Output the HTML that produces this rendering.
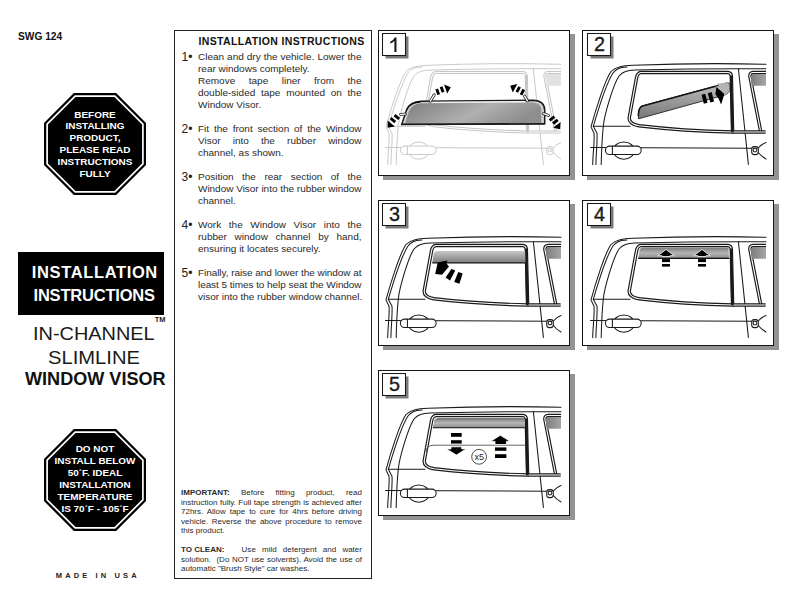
<!DOCTYPE html>
<html><head><meta charset="utf-8">
<style>
*{margin:0;padding:0;box-sizing:border-box}
html,body{width:792px;height:612px;background:#fff;overflow:hidden}
body{position:relative;font-family:"Liberation Sans",sans-serif;color:#1a1a1a}
.a{position:absolute;white-space:nowrap}
.oct{position:absolute}
.tb{position:absolute;left:174px;top:30px;width:198px;height:549px;border:1.2px solid #222}
.ln{position:absolute;left:198.1px;width:147.2px;font-size:9px;line-height:12px;height:12px;margin-top:0.4px;white-space:nowrap;color:#2a2a2a;transform:scaleX(1.1108);transform-origin:0 0}
.j{text-align:justify;text-align-last:justify}
.num{position:absolute;margin-top:1px;left:181.5px;font-size:12px;line-height:12px;color:#222}
.sm{position:absolute;margin-top:1.4px;left:180.8px;width:169.6px;font-size:7.5px;line-height:9.5px;height:9.5px;white-space:nowrap;color:#2a2a2a;transform:scaleX(1.067);transform-origin:0 0}
.panel{position:absolute;width:192px;height:146px}
.panel .sh{position:absolute;left:5px;top:4px;width:192px;height:146px;background:#939393}
.panel svg{position:absolute;left:0;top:0}
</style></head><body>

<div class="a" style="left:18px;top:31px;font-size:10.2px;font-weight:bold;color:#111">SWG 124</div>

<!-- octagon 1 -->
<svg class="oct" style="left:43px;top:91.8px" width="104" height="104" viewBox="0 0 104 104">
  <polygon points="30.88,1.00 73.12,1.00 103.00,30.88 103.00,73.12 73.12,103.00 30.88,103.00 1.00,73.12 1.00,30.88" fill="#000"/>
  <polygon points="32.16,4.10 71.84,4.10 99.90,32.16 99.90,71.84 71.84,99.90 32.16,99.90 4.10,71.84 4.10,32.16" fill="none" stroke="#fff" stroke-width="1.7"/>
</svg>
<div class="a" style="left:43px;top:109.6px;width:104px;text-align:center;color:#fff;font-weight:bold;font-size:9.2px;line-height:11.78px;white-space:normal;transform:scaleX(1.085)">BEFORE<br>INSTALLING<br>PRODUCT,<br>PLEASE READ<br>INSTRUCTIONS<br>FULLY</div>

<div class="a" style="left:18px;top:252px;width:146px;height:63px;background:#000"></div>
<div class="a" style="left:31.8px;top:260.5px;color:#fff;font-weight:bold;font-size:16.5px;line-height:23.5px;letter-spacing:0.63px">INSTALLATION</div>
<div class="a" style="left:33.5px;top:283.5px;color:#fff;font-weight:bold;font-size:16.5px;line-height:23.5px;letter-spacing:-0.2px">INSTRUCTIONS</div>
<div class="a" style="left:154.8px;top:315px;font-size:7.4px;line-height:9px;font-weight:bold;color:#222">TM</div>
<div class="a" style="left:32.5px;top:323px;font-size:18.5px;line-height:22px;color:#1a1a1a;transform:scaleX(1.076);transform-origin:0 0">IN-CHANNEL</div>
<div class="a" style="left:47.5px;top:346.5px;font-size:18.5px;line-height:22px;color:#1a1a1a;transform:scaleX(1.09);transform-origin:0 0">SLIMLINE</div>
<div class="a" style="left:24.5px;top:368px;font-size:18.5px;font-weight:bold;line-height:22px;color:#111;transform:scaleX(0.977);transform-origin:0 0">WINDOW VISOR</div>

<!-- octagon 2 -->
<svg class="oct" style="left:43px;top:427.8px" width="104" height="104" viewBox="0 0 104 104">
  <polygon points="30.88,1.00 73.12,1.00 103.00,30.88 103.00,73.12 73.12,103.00 30.88,103.00 1.00,73.12 1.00,30.88" fill="#000"/>
  <polygon points="32.16,4.10 71.84,4.10 99.90,32.16 99.90,71.84 71.84,99.90 32.16,99.90 4.10,71.84 4.10,32.16" fill="none" stroke="#fff" stroke-width="1.7"/>
</svg>
<div class="a" style="left:42.5px;top:442.5px;width:104px;text-align:center;color:#fff;font-weight:bold;font-size:9.4px;line-height:12.05px;white-space:normal;transform:scaleX(1.06)">DO NOT<br>INSTALL BELOW<br>50<span style="font-size:6px;position:relative;top:-3px;margin:0 0.3px;line-height:0">&deg;</span>F. IDEAL<br>INSTALLATION<br>TEMPERATURE<br>IS 70<span style="font-size:6px;position:relative;top:-3px;margin:0 0.3px;line-height:0">&deg;</span>F - 105<span style="font-size:6px;position:relative;top:-3px;margin:0 0.3px;line-height:0">&deg;</span>F</div>

<div class="a" style="left:55.8px;top:570.5px;font-size:7.5px;font-weight:bold;letter-spacing:3.12px;color:#222">MADE IN USA</div>

<!-- text box -->
<div class="tb"></div>
<div class="a" style="left:198.5px;top:35px;font-size:10.5px;letter-spacing:0.36px;font-weight:bold;color:#111">INSTALLATION INSTRUCTIONS</div>

<div class="num" style="top:50px">1&bull;</div>
<div class="ln j" style="top:51px">Clean and dry the vehicle. Lower the</div>
<div class="ln" style="top:63px">rear windows completely.</div>
<div class="ln j" style="top:75px">Remove tape liner from the</div>
<div class="ln j" style="top:87px">double-sided tape mounted on the</div>
<div class="ln" style="top:99px">Window Visor.</div>

<div class="num" style="top:122px">2&bull;</div>
<div class="ln j" style="top:123px">Fit the front section of the Window</div>
<div class="ln j" style="top:135px">Visor into the rubber window</div>
<div class="ln" style="top:147px">channel, as shown.</div>

<div class="num" style="top:170px">3&bull;</div>
<div class="ln j" style="top:171px">Position the rear section of the</div>
<div class="ln j" style="top:183px;letter-spacing:-0.03px">Window Visor into the rubber window</div>
<div class="ln" style="top:195px">channel.</div>

<div class="num" style="top:218px">4&bull;</div>
<div class="ln j" style="top:219px">Work the Window Visor into the</div>
<div class="ln j" style="top:231px">rubber window channel by hand,</div>
<div class="ln" style="top:243px">ensuring it locates securely.</div>

<div class="num" style="top:266px">5&bull;</div>
<div class="ln j" style="top:267px;letter-spacing:-0.06px">Finally, raise and lower the window at</div>
<div class="ln j" style="top:279px;letter-spacing:-0.065px">least 5 times to help seat the Window</div>
<div class="ln" style="top:291px;letter-spacing:-0.02px">visor into the rubber window channel.</div>

<div class="sm j" style="top:487px"><b>IMPORTANT:</b> Before fitting product, read</div>
<div class="sm j" style="top:496.5px">instruction fully. Full tape strength is achieved after</div>
<div class="sm j" style="top:506px">72hrs. Allow tape to cure for 4hrs before driving</div>
<div class="sm j" style="top:515.5px">vehicle. Reverse the above procedure to remove</div>
<div class="sm" style="top:525px">this product.</div>

<div class="sm j" style="top:544px"><b style="display:inline-block;width:51px;text-align-last:left;text-align:left">TO CLEAN:</b> Use mild detergent and water</div>
<div class="sm j" style="top:553.5px">solution.<span style="display:inline-block;width:2.8px"></span> (Do NOT use solvents). Avoid the use of</div>
<div class="sm" style="top:563px">automatic "Brush Style" car washes.</div>

<!-- PANELS -->
<div class="panel" style="left:378px;top:30px"><div class="sh"></div><div style="position:absolute;inset:0;background:#fff;border:1.3px solid #151515"></div><svg width="192" height="146" viewBox="0 0 192 146" style="position:absolute;left:0;top:0"><defs><clipPath id="clp1"><rect x="1" y="1" width="182.5" height="134.8"/></clipPath><linearGradient id="g1" x1="0" y1="0" x2="1" y2="0.3"><stop offset="0" stop-color="#7c7c7c"/><stop offset="0.6" stop-color="#b0b0b0"/><stop offset="1" stop-color="#8e8e8e"/></linearGradient></defs><g clip-path="url(#clp1)"><g transform="translate(0,0.0)" fill="none" stroke="#c6c6c6" stroke-width="0.95" stroke-linejoin="round" stroke-linecap="round">
<path d="M183,34.3 Q118,32.6 50,35.3 C40,35.8 33,36.5 28,41.5 C22,50 12.5,80 8,96.9 L11,103.3 C11.8,110 9.8,125 9.7,134.6"/>
<path d="M44,37 C36,37.5 33,39 30,43 C24,52 14.5,82 10.3,96.3 L14,103.3 C14.6,110 13,125 12.9,134.6"/>
<path d="M183,38.8 Q120,38.3 52,40.1 C44,40.5 40,41.5 36,46 C30,55 21.5,85 20.3,95.7 C19.4,105 18.4,125 18.2,134.6"/>
<path d="M10.3,96.3 L47,96.3"/>
<path d="M155.4,38.8 L165.4,134.4"/>
<path d="M7.5,117.5 L169,118.2"/>
<ellipse cx="40.8" cy="120.6" rx="10.6" ry="8.6" fill="#fff"/>
<rect x="22.4" y="116.1" width="35.8" height="8.4" rx="4.2" fill="#fff"/>
<path d="M29.4,116.3 L29.4,124.3"/>
<rect x="168.7" y="116.6" width="6.6" height="8" rx="2.6" fill="#fff"/>
<circle cx="172" cy="120" r="1.9"/>
<path d="M175.3,118 Q178,114.5 183,112.5 M175.3,122.5 Q178,126 183,129"/>
<path d="M58,42.5 L145,42.5 Q148,42.8 148.3,46 L149.6,102 Q100,101 56,95.8 Q46,94 46.2,88 L53.5,48 Q54.5,42.8 58,42.5 Z" stroke-width="3.135" stroke-linecap="butt"/>
<path d="M58,42.5 L145,42.5 Q148,42.8 148.3,46 L149.6,102 Q100,101 56,95.8 Q46,94 46.2,88 L53.5,48 Q54.5,42.8 58,42.5 Z" stroke="#fff" stroke-width="1.045" stroke-linecap="butt"/>
<path d="M183,42.5 L170,42.5 Q167,42.7 166.8,46 L177.8,102" stroke-width="3.135" stroke-linecap="butt"/>
<path d="M183,42.5 L170,42.5 Q167,42.7 166.8,46 L177.8,102" stroke="#fff" stroke-width="1.045" stroke-linecap="butt"/>
<path d="M149.6,102 L182.6,102" stroke-width="3.135" stroke-linecap="butt"/>
<path d="M149.6,102 L182.6,102" stroke="#fff" stroke-width="1.045" stroke-linecap="butt"/>
<path d="M148.2,45.5 L149.4,102.3" stroke-width="2.28" stroke-linecap="butt"/>
<path d="M58,41.6 L145,41.6" stroke-width="0.855" stroke-linecap="butt"/>
</g></g>
<path d="M168.6,55.8 L167.9,47.5 Q168,43.9 171.5,43.9 L183,43.9 L183,55.8 Z" fill="#e2e2e2"/>
<path d="M23.7,94.5 L28.5,80 Q32,71.5 43,71.2 L155,70.2 Q166.5,70.5 166.7,80 L166.7,93.8 Z" fill="#d0d0d0" stroke="#1a1a1a" stroke-width="1.5"/>
<path d="M26.8,94 L30.8,81.5 Q34,73.5 44,73.3 L155,72.6 Q163.2,73 163.3,80.5 L163.3,93.8 Z" fill="url(#g1)"/>
<path d="M28.6,80 Q32,72.3 42.5,72.2" fill="none" stroke="#111" stroke-width="1.2"/>
<path d="M53,72.3 L147,71.6" stroke="#fff" stroke-width="1.1"/>
<path d="M24.5,94.3 L166.7,93.8" stroke="#1a1a1a" stroke-width="1.6"/>
<path d="M52.3,71.2 L56.2,64.8" stroke="#222" stroke-width="3.0" stroke-linecap="round"/><path d="M52.3,71.2 L56.2,64.8" stroke="#fff" stroke-width="1.4" stroke-linecap="round"/>
<path d="M22.6,84.3 L27.3,84.2" stroke="#222" stroke-width="2.8" stroke-linecap="round"/><path d="M22.6,84.3 L27.3,84.2" stroke="#fff" stroke-width="1.2000000000000002" stroke-linecap="round"/>
<path d="M146.6,66.2 L149.4,70.8" stroke="#222" stroke-width="3.0" stroke-linecap="round"/><path d="M146.6,66.2 L149.4,70.8" stroke="#fff" stroke-width="1.4" stroke-linecap="round"/>
<path d="M165.6,83.7 L170.4,85.4" stroke="#222" stroke-width="3.0" stroke-linecap="round"/><path d="M165.6,83.7 L170.4,85.4" stroke="#fff" stroke-width="1.4" stroke-linecap="round"/>
<polygon points="57.34,59.45 60.08,58.49 62.06,64.15 59.32,65.11" fill="#000"/><polygon points="61.74,57.15 64.48,56.19 66.46,61.85 63.72,62.81" fill="#000"/><polygon points="69.19,63.51 72.81,57.21 66.05,54.54" fill="#000"/>
<polygon points="22.02,87.84 20.14,90.05 15.58,86.16 17.46,83.95" fill="#000"/><polygon points="18.12,90.94 16.24,93.15 11.68,89.26 13.56,87.05" fill="#000"/><polygon points="9.62,90.44 9.66,97.71 16.84,96.61" fill="#000"/>
<polygon points="144.28,65.53 141.72,64.18 144.52,58.87 147.08,60.22" fill="#000"/><polygon points="140.08,62.83 137.52,61.48 140.32,56.17 142.88,57.52" fill="#000"/><polygon points="139.26,54.12 132.18,55.76 134.83,62.53" fill="#000"/>
<polygon points="175.50,85.53 177.26,87.83 172.50,91.47 170.74,89.17" fill="#000"/><polygon points="178.90,88.73 180.66,91.03 175.90,94.67 174.14,92.37" fill="#000"/><polygon points="175.09,97.74 182.21,99.22 182.63,91.97" fill="#000"/>
<rect x="7.5" y="6.5" width="23.0" height="22.0" fill="#7a7a7a"/><rect x="4.5" y="3.5" width="23.0" height="22.0" fill="#fff" stroke="#1a1a1a" stroke-width="1.05"/><path d="M12.2,11.7 Q15.6,10.4 16.7,7.5 L18.5,7.5 L18.5,21.9 L16.4,21.9 L16.4,10.9 Q14.9,12.6 12.2,13.5 Z" fill="#1a1a1a"/></svg></div>
<div class="panel" style="left:582px;top:30px"><div class="sh"></div><div style="position:absolute;inset:0;background:#fff;border:1.3px solid #151515"></div><svg width="192" height="146" viewBox="0 0 192 146" style="position:absolute;left:1px;top:0"><defs><linearGradient id="g2" x1="0" y1="1" x2="0.2" y2="0"><stop offset="0" stop-color="#777777"/><stop offset="1" stop-color="#b5b5b5"/></linearGradient><linearGradient id="g2r" x1="0" y1="0" x2="1" y2="0"><stop offset="0" stop-color="#7d7d7d"/><stop offset="1" stop-color="#a5a5a5"/></linearGradient></defs><g transform="translate(0,0)" fill="none" stroke="#1a1a1a" stroke-width="1.05" stroke-linejoin="round" stroke-linecap="round">
<path d="M183,34.3 Q118,32.6 50,35.3 C40,35.8 33,36.5 28,41.5 C22,50 12.5,80 8,96.9 L11,103.3 C11.8,110 9.8,125 9.7,134.6"/>
<path d="M44,37 C36,37.5 33,39 30,43 C24,52 14.5,82 10.3,96.3 L14,103.3 C14.6,110 13,125 12.9,134.6"/>
<path d="M183,38.8 Q120,38.3 52,40.1 C44,40.5 40,41.5 36,46 C30,55 21.5,85 20.3,95.7 C19.4,105 18.4,125 18.2,134.6"/>
<path d="M10.3,96.3 L47,96.3"/>
<path d="M155.4,38.8 L165.4,134.4"/>
<path d="M7.5,117.5 L169,118.2"/>
<ellipse cx="40.8" cy="120.6" rx="10.6" ry="8.6" fill="#fff"/>
<rect x="22.4" y="116.1" width="35.8" height="8.4" rx="4.2" fill="#fff"/>
<path d="M29.4,116.3 L29.4,124.3"/>
<rect x="168.7" y="116.6" width="6.6" height="8" rx="2.6" fill="#fff"/>
<circle cx="172" cy="120" r="1.9"/>
<path d="M175.3,118 Q178,114.5 183,112.5 M175.3,122.5 Q178,126 183,129"/>
<path d="M58,42.5 L145,42.5 Q148,42.8 148.3,46 L149.6,102 Q100,101 56,95.8 Q46,94 46.2,88 L53.5,48 Q54.5,42.8 58,42.5 Z" stroke-width="3.465" stroke-linecap="butt"/>
<path d="M58,42.5 L145,42.5 Q148,42.8 148.3,46 L149.6,102 Q100,101 56,95.8 Q46,94 46.2,88 L53.5,48 Q54.5,42.8 58,42.5 Z" stroke="#fff" stroke-width="1.1550000000000002" stroke-linecap="butt"/>
<path d="M183,42.5 L170,42.5 Q167,42.7 166.8,46 L177.8,102" stroke-width="3.465" stroke-linecap="butt"/>
<path d="M183,42.5 L170,42.5 Q167,42.7 166.8,46 L177.8,102" stroke="#fff" stroke-width="1.1550000000000002" stroke-linecap="butt"/>
<path d="M149.6,102 L182.6,102" stroke-width="3.465" stroke-linecap="butt"/>
<path d="M149.6,102 L182.6,102" stroke="#fff" stroke-width="1.1550000000000002" stroke-linecap="butt"/>
<path d="M148.2,45.5 L149.4,102.3" stroke-width="2.52" stroke-linecap="butt"/>
<path d="M58,41.6 L145,41.6" stroke-width="0.9450000000000001" stroke-linecap="butt"/>
</g>
<path d="M168.6,55.8 L167.9,47.5 Q168,43.9 171.5,43.9 L183,43.9 L183,55.8 Z" fill="url(#g2r)"/>
<path d="M58.2,76.2 L143.6,53.1 L146.2,53 L146.2,62 L142.3,64.8 L55.6,88.8 Q54.5,80 58.2,76.2 Z" fill="url(#g2)" stroke="#222" stroke-width="0.9"/>
<path d="M55.4,86 Q55.2,77.5 59.5,76 L143.6,53.3" fill="none" stroke="#151515" stroke-width="1.5"/>
<path d="M133.8,53.6 L143.6,53.1 Q146.2,53 146.2,56 L146.2,62 L142.3,64.8 Z" fill="#b4b4b4"/>
<path d="M133,55.6 L142.3,65.2" stroke="#fff" stroke-width="1"/>
<polygon points="118.6,64.7 122.2,63.8 124.5,72.8 120.8,73.8" fill="#000"/>
<polygon points="124.8,63.2 128.6,62.1 131.1,71.4 127.3,72.4" fill="#000"/>
<polygon points="133.5,56.8 141.4,64 138.1,74.4 136,69.5 132.4,64" fill="#000"/>
<rect x="7.5" y="6.5" width="23.0" height="22.0" fill="#7a7a7a"/><rect x="4.5" y="3.5" width="23.0" height="22.0" fill="#fff" stroke="#1a1a1a" stroke-width="1.05"/><text x="16.4" y="21.4" text-anchor="middle" font-family="Liberation Sans, sans-serif" font-size="19.8" fill="#1a1a1a" stroke="#1a1a1a" stroke-width="0.35">2</text></svg></div>
<div class="panel" style="left:378px;top:200px"><div class="sh"></div><div style="position:absolute;inset:0;background:#fff;border:1.3px solid #151515"></div><svg width="192" height="146" viewBox="0 0 192 146" style="position:absolute;left:0;top:0"><defs><linearGradient id="g3" x1="0" y1="0" x2="0" y2="1"><stop offset="0" stop-color="#c8c8c8"/><stop offset="1" stop-color="#7c7c7c"/></linearGradient><linearGradient id="g3r" x1="0" y1="0" x2="1" y2="0"><stop offset="0" stop-color="#7d7d7d"/><stop offset="1" stop-color="#a5a5a5"/></linearGradient></defs><g transform="translate(0,3.0)" fill="none" stroke="#1a1a1a" stroke-width="1.05" stroke-linejoin="round" stroke-linecap="round">
<path d="M183,34.3 Q118,32.6 50,35.3 C40,35.8 33,36.5 28,41.5 C22,50 12.5,80 8,96.9 L11,103.3 C11.8,110 9.8,125 9.7,134.6"/>
<path d="M44,37 C36,37.5 33,39 30,43 C24,52 14.5,82 10.3,96.3 L14,103.3 C14.6,110 13,125 12.9,134.6"/>
<path d="M183,38.8 Q120,38.3 52,40.1 C44,40.5 40,41.5 36,46 C30,55 21.5,85 20.3,95.7 C19.4,105 18.4,125 18.2,134.6"/>
<path d="M10.3,96.3 L47,96.3"/>
<path d="M155.4,38.8 L165.4,134.4"/>
<path d="M7.5,117.5 L169,118.2"/>
<ellipse cx="40.8" cy="120.6" rx="10.6" ry="8.6" fill="#fff"/>
<rect x="22.4" y="116.1" width="35.8" height="8.4" rx="4.2" fill="#fff"/>
<path d="M29.4,116.3 L29.4,124.3"/>
<rect x="168.7" y="116.6" width="6.6" height="8" rx="2.6" fill="#fff"/>
<circle cx="172" cy="120" r="1.9"/>
<path d="M175.3,118 Q178,114.5 183,112.5 M175.3,122.5 Q178,126 183,129"/>
<path d="M58,42.5 L145,42.5 Q148,42.8 148.3,46 L149.6,102 Q100,101 56,95.8 Q46,94 46.2,88 L53.5,48 Q54.5,42.8 58,42.5 Z" stroke-width="3.465" stroke-linecap="butt"/>
<path d="M58,42.5 L145,42.5 Q148,42.8 148.3,46 L149.6,102 Q100,101 56,95.8 Q46,94 46.2,88 L53.5,48 Q54.5,42.8 58,42.5 Z" stroke="#fff" stroke-width="1.1550000000000002" stroke-linecap="butt"/>
<path d="M183,42.5 L170,42.5 Q167,42.7 166.8,46 L177.8,102" stroke-width="3.465" stroke-linecap="butt"/>
<path d="M183,42.5 L170,42.5 Q167,42.7 166.8,46 L177.8,102" stroke="#fff" stroke-width="1.1550000000000002" stroke-linecap="butt"/>
<path d="M149.6,102 L182.6,102" stroke-width="3.465" stroke-linecap="butt"/>
<path d="M149.6,102 L182.6,102" stroke="#fff" stroke-width="1.1550000000000002" stroke-linecap="butt"/>
<path d="M148.2,45.5 L149.4,102.3" stroke-width="2.52" stroke-linecap="butt"/>
<path d="M58,41.6 L145,41.6" stroke-width="0.9450000000000001" stroke-linecap="butt"/>
</g>
<path d="M168.6,58.8 L167.9,50.5 Q168,46.9 171.5,46.9 L183,46.9 L183,58.8 Z" fill="url(#g3r)"/>
<path d="M54.3,62.8 L55.8,53 Q56.5,50.9 59,50.9 L147,50.9 L147.6,62.8 Z" fill="url(#g3)"/>
<path d="M54.3,62.8 L147.6,62.8" stroke="#111" stroke-width="1.2"/>
<polygon points="59.7,62.5 69.4,60.5 68.6,63.6 71,66.4 64,74.8 57.2,74" fill="#000"/>
<polygon points="67.6,77.4 73.4,68.9 77.3,70.4 72,80.5" fill="#000"/>
<polygon points="76.2,82 80.3,72.1 84.7,73.6 81.4,83.7" fill="#000"/>
<rect x="7.5" y="6.5" width="23.0" height="22.0" fill="#7a7a7a"/><rect x="4.5" y="3.5" width="23.0" height="22.0" fill="#fff" stroke="#1a1a1a" stroke-width="1.05"/><text x="16.4" y="21.4" text-anchor="middle" font-family="Liberation Sans, sans-serif" font-size="19.8" fill="#1a1a1a" stroke="#1a1a1a" stroke-width="0.35">3</text></svg></div>
<div class="panel" style="left:582px;top:200px"><div class="sh"></div><div style="position:absolute;inset:0;background:#fff;border:1.3px solid #151515"></div><svg width="192" height="146" viewBox="0 0 192 146" style="position:absolute;left:1px;top:0"><defs><linearGradient id="g4" x1="0" y1="0" x2="0" y2="1"><stop offset="0" stop-color="#7a7a7a"/><stop offset="0.5" stop-color="#b5b5b5"/><stop offset="1" stop-color="#8a8a8a"/></linearGradient><linearGradient id="g4r" x1="0" y1="0" x2="1" y2="0"><stop offset="0" stop-color="#7d7d7d"/><stop offset="1" stop-color="#a5a5a5"/></linearGradient></defs><g transform="translate(0,3.0)" fill="none" stroke="#1a1a1a" stroke-width="1.05" stroke-linejoin="round" stroke-linecap="round">
<path d="M183,34.3 Q118,32.6 50,35.3 C40,35.8 33,36.5 28,41.5 C22,50 12.5,80 8,96.9 L11,103.3 C11.8,110 9.8,125 9.7,134.6"/>
<path d="M44,37 C36,37.5 33,39 30,43 C24,52 14.5,82 10.3,96.3 L14,103.3 C14.6,110 13,125 12.9,134.6"/>
<path d="M183,38.8 Q120,38.3 52,40.1 C44,40.5 40,41.5 36,46 C30,55 21.5,85 20.3,95.7 C19.4,105 18.4,125 18.2,134.6"/>
<path d="M10.3,96.3 L47,96.3"/>
<path d="M155.4,38.8 L165.4,134.4"/>
<path d="M7.5,117.5 L169,118.2"/>
<ellipse cx="40.8" cy="120.6" rx="10.6" ry="8.6" fill="#fff"/>
<rect x="22.4" y="116.1" width="35.8" height="8.4" rx="4.2" fill="#fff"/>
<path d="M29.4,116.3 L29.4,124.3"/>
<rect x="168.7" y="116.6" width="6.6" height="8" rx="2.6" fill="#fff"/>
<circle cx="172" cy="120" r="1.9"/>
<path d="M175.3,118 Q178,114.5 183,112.5 M175.3,122.5 Q178,126 183,129"/>
<path d="M58,42.5 L145,42.5 Q148,42.8 148.3,46 L149.6,102 Q100,101 56,95.8 Q46,94 46.2,88 L53.5,48 Q54.5,42.8 58,42.5 Z" stroke-width="3.465" stroke-linecap="butt"/>
<path d="M58,42.5 L145,42.5 Q148,42.8 148.3,46 L149.6,102 Q100,101 56,95.8 Q46,94 46.2,88 L53.5,48 Q54.5,42.8 58,42.5 Z" stroke="#fff" stroke-width="1.1550000000000002" stroke-linecap="butt"/>
<path d="M183,42.5 L170,42.5 Q167,42.7 166.8,46 L177.8,102" stroke-width="3.465" stroke-linecap="butt"/>
<path d="M183,42.5 L170,42.5 Q167,42.7 166.8,46 L177.8,102" stroke="#fff" stroke-width="1.1550000000000002" stroke-linecap="butt"/>
<path d="M149.6,102 L182.6,102" stroke-width="3.465" stroke-linecap="butt"/>
<path d="M149.6,102 L182.6,102" stroke="#fff" stroke-width="1.1550000000000002" stroke-linecap="butt"/>
<path d="M148.2,45.5 L149.4,102.3" stroke-width="2.52" stroke-linecap="butt"/>
<path d="M58,41.6 L145,41.6" stroke-width="0.9450000000000001" stroke-linecap="butt"/>
</g>
<path d="M168.6,58.8 L167.9,50.5 Q168,46.9 171.5,46.9 L183,46.9 L183,58.8 Z" fill="url(#g4r)"/>
<path d="M55.2,58.4 L56.5,50 Q57.5,47.6 60,47.6 L145.5,47.6 L146,58.4 Z" fill="url(#g4)"/>
<path d="M55.2,58.4 L146.5,58.4" stroke="#111" stroke-width="1.1"/>
<polygon points="74.8,55.7 83,49.5 91.2,55.7 87,55.7 87,56.5 79,56.5 79,55.7" fill="#000" stroke="#fff" stroke-width="0.8"/><rect x="79" y="59.1" width="8" height="3.0" fill="#000"/><rect x="79" y="64.0" width="8" height="2.6" fill="#000"/>
<polygon points="110.8,55.7 119,49.5 127.2,55.7 123,55.7 123,56.5 115,56.5 115,55.7" fill="#000" stroke="#fff" stroke-width="0.8"/><rect x="115" y="59.1" width="8" height="3.0" fill="#000"/><rect x="115" y="64.0" width="8" height="2.6" fill="#000"/>
<rect x="7.5" y="6.5" width="23.0" height="22.0" fill="#7a7a7a"/><rect x="4.5" y="3.5" width="23.0" height="22.0" fill="#fff" stroke="#1a1a1a" stroke-width="1.05"/><text x="16.4" y="21.4" text-anchor="middle" font-family="Liberation Sans, sans-serif" font-size="19.8" fill="#1a1a1a" stroke="#1a1a1a" stroke-width="0.35">4</text></svg></div>
<div class="panel" style="left:378px;top:370px"><div class="sh"></div><div style="position:absolute;inset:0;background:#fff;border:1.3px solid #151515"></div><svg width="192" height="146" viewBox="0 0 192 146" style="position:absolute;left:0;top:0"><defs><linearGradient id="g5" x1="0" y1="0" x2="0" y2="1"><stop offset="0" stop-color="#6f6f6f"/><stop offset="0.5" stop-color="#b9b9b9"/><stop offset="1" stop-color="#8d8d8d"/></linearGradient><linearGradient id="g5r" x1="0" y1="0" x2="1" y2="0"><stop offset="0" stop-color="#7d7d7d"/><stop offset="1" stop-color="#a5a5a5"/></linearGradient></defs><g transform="translate(0,3.0)" fill="none" stroke="#1a1a1a" stroke-width="1.05" stroke-linejoin="round" stroke-linecap="round">
<path d="M183,34.3 Q118,32.6 50,35.3 C40,35.8 33,36.5 28,41.5 C22,50 12.5,80 8,96.9 L11,103.3 C11.8,110 9.8,125 9.7,134.6"/>
<path d="M44,37 C36,37.5 33,39 30,43 C24,52 14.5,82 10.3,96.3 L14,103.3 C14.6,110 13,125 12.9,134.6"/>
<path d="M183,38.8 Q120,38.3 52,40.1 C44,40.5 40,41.5 36,46 C30,55 21.5,85 20.3,95.7 C19.4,105 18.4,125 18.2,134.6"/>
<path d="M10.3,96.3 L47,96.3"/>
<path d="M155.4,38.8 L165.4,134.4"/>
<path d="M7.5,117.5 L169,118.2"/>
<ellipse cx="40.8" cy="120.6" rx="10.6" ry="8.6" fill="#fff"/>
<rect x="22.4" y="116.1" width="35.8" height="8.4" rx="4.2" fill="#fff"/>
<path d="M29.4,116.3 L29.4,124.3"/>
<rect x="168.7" y="116.6" width="6.6" height="8" rx="2.6" fill="#fff"/>
<circle cx="172" cy="120" r="1.9"/>
<path d="M175.3,118 Q178,114.5 183,112.5 M175.3,122.5 Q178,126 183,129"/>
<path d="M58,42.5 L145,42.5 Q148,42.8 148.3,46 L149.6,102 Q100,101 56,95.8 Q46,94 46.2,88 L53.5,48 Q54.5,42.8 58,42.5 Z" stroke-width="3.465" stroke-linecap="butt"/>
<path d="M58,42.5 L145,42.5 Q148,42.8 148.3,46 L149.6,102 Q100,101 56,95.8 Q46,94 46.2,88 L53.5,48 Q54.5,42.8 58,42.5 Z" stroke="#fff" stroke-width="1.1550000000000002" stroke-linecap="butt"/>
<path d="M183,42.5 L170,42.5 Q167,42.7 166.8,46 L177.8,102" stroke-width="3.465" stroke-linecap="butt"/>
<path d="M183,42.5 L170,42.5 Q167,42.7 166.8,46 L177.8,102" stroke="#fff" stroke-width="1.1550000000000002" stroke-linecap="butt"/>
<path d="M149.6,102 L182.6,102" stroke-width="3.465" stroke-linecap="butt"/>
<path d="M149.6,102 L182.6,102" stroke="#fff" stroke-width="1.1550000000000002" stroke-linecap="butt"/>
<path d="M148.2,45.5 L149.4,102.3" stroke-width="2.52" stroke-linecap="butt"/>
<path d="M58,41.6 L145,41.6" stroke-width="0.9450000000000001" stroke-linecap="butt"/>
</g>
<path d="M168.6,58.8 L167.9,50.5 Q168,46.9 171.5,46.9 L183,46.9 L183,58.8 Z" fill="url(#g5r)"/>
<path d="M54.9,57.7 L56.2,50.5 Q57,47.9 60,47.9 L146.5,47.9 L147,57.7 Z" fill="url(#g5)"/>
<path d="M54.9,57.7 L147,57.7" stroke="#111" stroke-width="1.1"/>
<path d="M47.8,82 Q48.5,75.2 56,75.2 L147.3,75.2" fill="none" stroke="#555" stroke-width="0.9"/>
<rect x="73" y="63" width="10.7" height="3.8" fill="#000"/><rect x="73" y="70.2" width="10.7" height="3.4" fill="#000"/>
<polygon points="73,76.8 83.7,76.8 83.7,78.9 88.2,78.9 78.4,85 68.5,78.9 73,78.9" fill="#000" stroke="#fff" stroke-width="0.8"/>
<circle cx="101.1" cy="86.8" r="7.4" fill="#fff" stroke="#222" stroke-width="0.8"/>
<text x="101.2" y="90.2" text-anchor="middle" font-family="Liberation Sans, sans-serif" font-size="9" fill="#222">x5</text>
<polygon points="112.5,71.4 122.4,65.3 132.2,71.4 128.4,71.4 128.4,74.5 117,74.5 117,71.4" fill="#000" stroke="#fff" stroke-width="0.8"/>
<rect x="117" y="77.4" width="11.4" height="3.4" fill="#000"/><rect x="117" y="84.2" width="11.4" height="3.8" fill="#000"/>
<rect x="7.5" y="6.5" width="23.0" height="22.0" fill="#7a7a7a"/><rect x="4.5" y="3.5" width="23.0" height="22.0" fill="#fff" stroke="#1a1a1a" stroke-width="1.05"/><text x="16.4" y="21.4" text-anchor="middle" font-family="Liberation Sans, sans-serif" font-size="19.8" fill="#1a1a1a" stroke="#1a1a1a" stroke-width="0.35">5</text></svg></div>
</body></html>
